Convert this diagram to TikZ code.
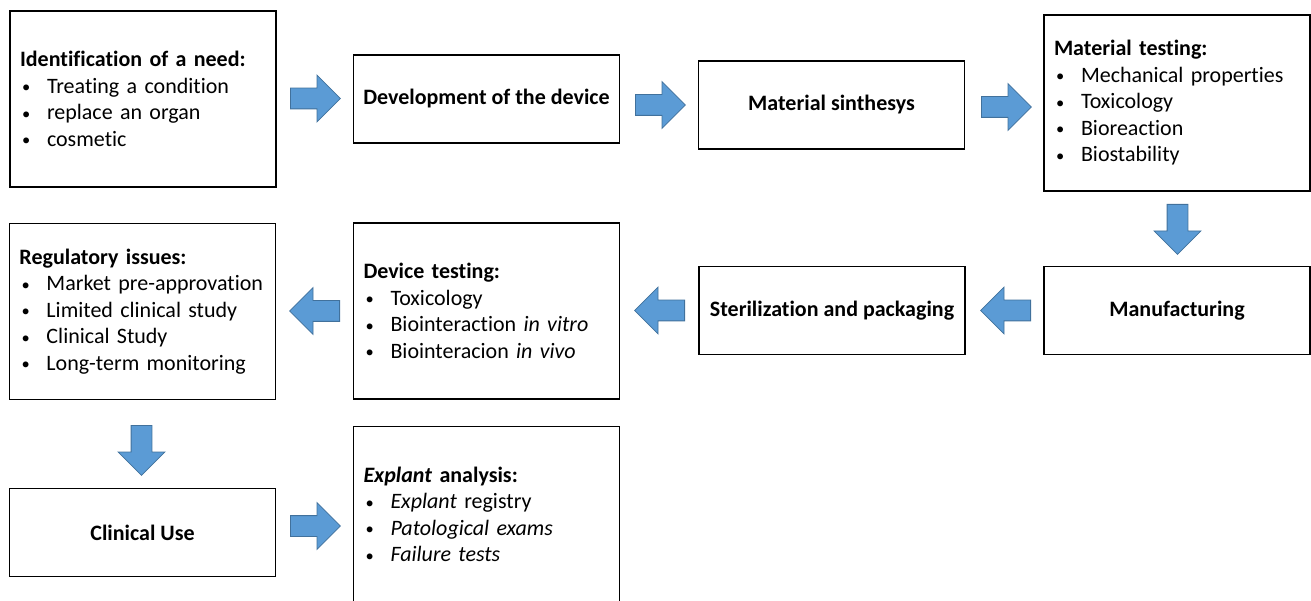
\documentclass[tikz,border=0pt]{standalone}
\usepackage{fontspec}
\setmainfont{Carlito}[Ligatures=NoCommon]
\usetikzlibrary{shapes.arrows}
\definecolor{arrfill}{HTML}{5B9BD5}
\definecolor{arrdraw}{HTML}{41719C}
\newcommand{\bitem}[1]{\makebox[27pt][l]{\hspace{2pt}\raisebox{0.5pt}{\scalebox{0.75}{\textbullet}}}#1}
\begin{document}
\begin{tikzpicture}[x=1pt,y=-1pt,
  basebox/.style={draw=black, line width=1.1pt, inner xsep=10pt, inner ysep=0pt,
    font=\fontsize{22}{26.5}\selectfont},
  listbox/.style={basebox, text width=246pt, align=left, minimum height=176pt},
  shortbox/.style={basebox, align=center, minimum width=266pt, minimum height=88pt},
  blockarrow/.style={single arrow, draw=arrdraw, fill=arrfill, line width=0.8pt,
    minimum height=50pt, minimum width=46pt, single arrow head extend=13pt,
    single arrow tip angle=90, inner sep=0pt, anchor=tail}]
\path[use as bounding box] (0,0) rectangle (1311,601);
\clip (0,0) rectangle (1311,601);

% row 1
\node[listbox] (need) at (143,99) {\textbf{Identification of a need:}\\
  \bitem{Treating a condition}\\ \bitem{replace an organ}\\ \bitem{cosmetic}};
\node[shortbox] (dev) at (486.5,99) {\textbf{Development of the device}};
\node[shortbox] (synth) at (831.5,105) {\textbf{Material sinthesys}};
\node[listbox] (mtest) at (1177,103) {\textbf{Material testing:}\\
  \bitem{Mechanical properties}\\ \bitem{Toxicology}\\ \bitem{Bioreaction}\\ \bitem{Biostability}};

% row 2
\node[shortbox] (manu) at (1177,310.5) {\textbf{Manufacturing}};
\node[shortbox] (steril) at (832,310.5) {\textbf{Sterilization and packaging}};
\node[listbox] (dtest) at (486.5,311) {\textbf{Device testing:}\\
  \bitem{Toxicology}\\ \bitem{Biointeraction \textit{in vitro}}\\ \bitem{Biointeracion \textit{in vivo}}};
\node[listbox] (reg) at (142.5,311.5) {\textbf{Regulatory issues:}\\
  \bitem{Market pre-approvation}\\ \bitem{Limited clinical study}\\ \bitem{Clinical Study}\\ \bitem{Long-term monitoring}};

% row 3
\node[shortbox] (clin) at (142.5,532.5) {\textbf{Clinical Use}};
\node[listbox] (expl) at (486.5,514.5) {\textbf{\textit{Explant} analysis:}\\
  \bitem{\textit{Explant} registry}\\ \bitem{\textit{Patological exams}}\\ \bitem{\textit{Failure tests}}};

% block arrows (placed by their tails)
\node[blockarrow] (a1) at (290,98.5) {\rule{0pt}{20pt}};
\node[blockarrow] (a2) at (635,105) {\rule{0pt}{20pt}};
\node[blockarrow] (a3) at (981,107) {\rule{0pt}{20pt}};
\node[blockarrow, rotate=-90] (a4) at (1177.5,204) {\rule{0pt}{20pt}};
\node[blockarrow, rotate=180] (a5) at (1031,310.5) {\rule{0pt}{20pt}};
\node[blockarrow, rotate=180] (a6) at (685,310.5) {\rule{0pt}{20pt}};
\node[blockarrow, rotate=180] (a7) at (340,311) {\rule{0pt}{20pt}};
\node[blockarrow, rotate=-90] (a8) at (141.5,425) {\rule{0pt}{20pt}};
\node[blockarrow] (a9) at (290,526) {\rule{0pt}{20pt}};
\end{tikzpicture}
\end{document}
